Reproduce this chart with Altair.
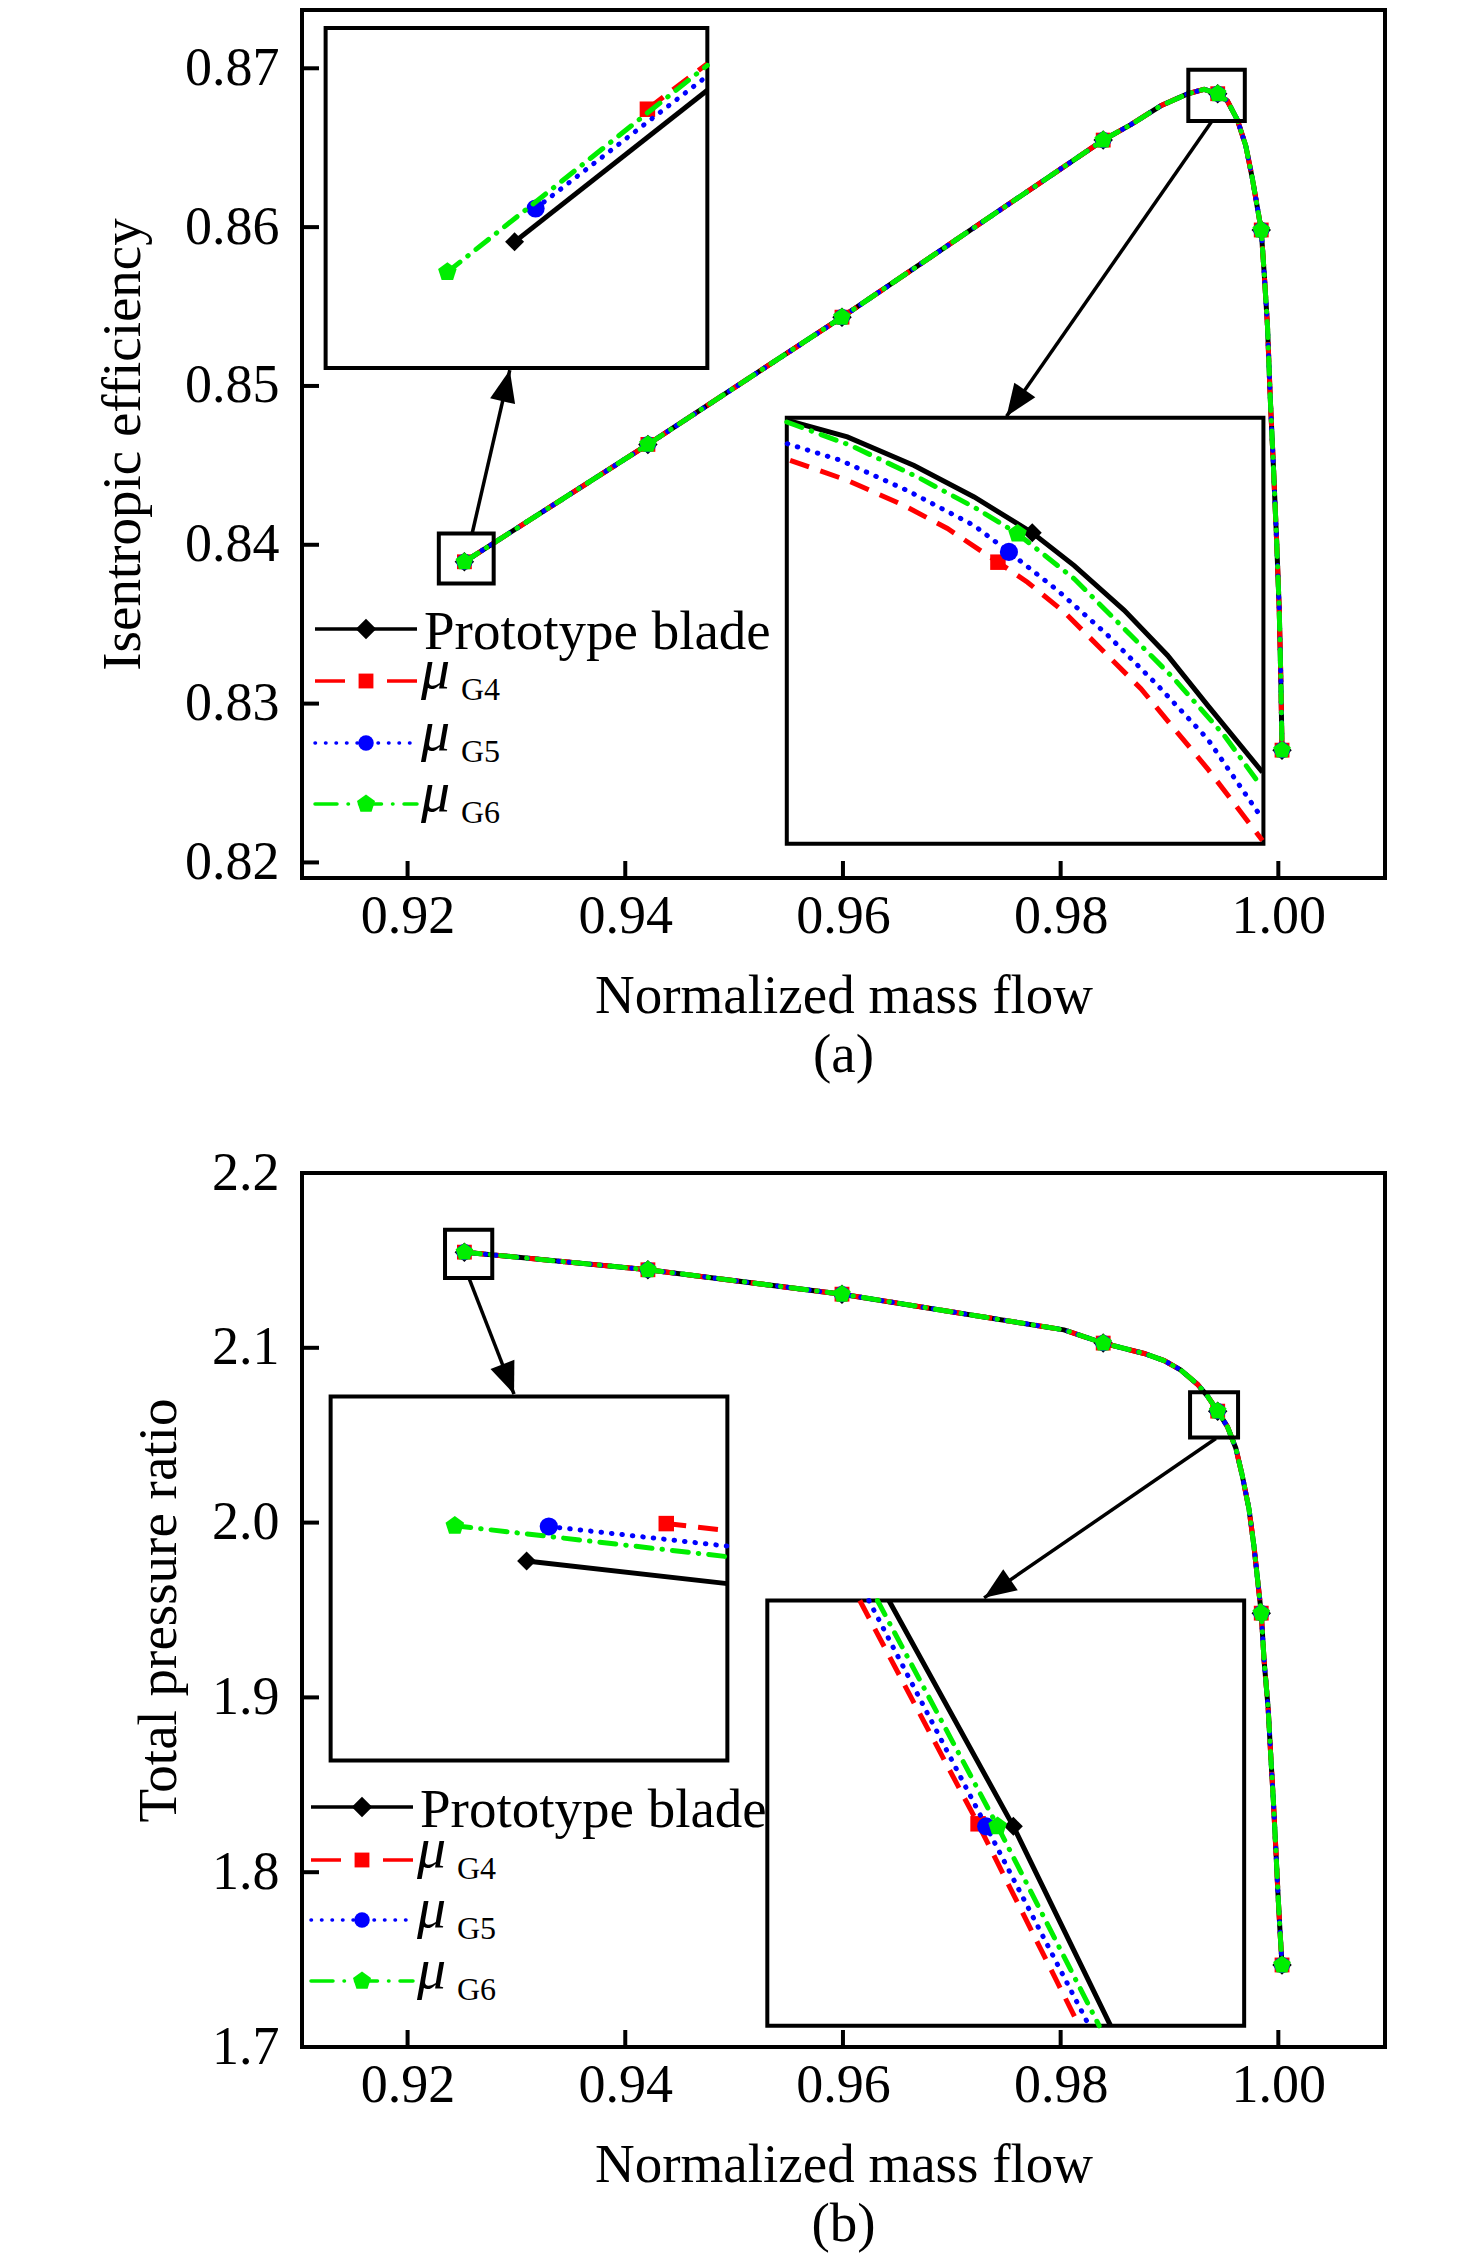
import math

import altair as alt
import pandas as pd

FONT = "Liberation Serif"

# ---------------------------------------------------------------- data
series = ["Prototype blade", "G4", "G5", "G6"]
mass_ticks = [0.92, 0.94, 0.96, 0.98, 1.00]

# (a) efficiency line, the four blades lie on top of each other here
flow_a = [0.92522, 0.94208, 0.95991, 0.98391, 0.98645, 0.98920, 0.99165, 0.99318,
          0.99443, 0.99532, 0.99624, 0.99701, 0.99762, 0.99843, 0.99870, 0.99900,
          0.99925, 0.99955, 0.99983, 1.00008, 1.00023, 1.00034]
efficiency = [0.83893, 0.84632, 0.85433, 0.86548, 0.86645, 0.86764, 0.86839, 0.86868,
              0.86840, 0.86794, 0.86675, 0.86512, 0.86304, 0.85982, 0.85710, 0.85382,
              0.84936, 0.84491, 0.84046, 0.83600, 0.83154, 0.82707]
marks_a = [0, 1, 2, 3, 8, 13, 21]

# (b) total pressure ratio line
flow_b = [0.92522, 0.94208, 0.95991, 0.98031, 0.98391, 0.98767, 0.98951, 0.99104,
          0.99257, 0.99349, 0.99443, 0.99532, 0.99609, 0.99670, 0.99731, 0.99777,
          0.99843, 0.99869, 0.99906, 0.99930, 0.99955, 0.99977, 0.99998, 1.00017,
          1.00034]
pressure = [2.15472, 2.14465, 2.13068, 2.11025, 2.10269, 2.09674, 2.09267, 2.08729,
            2.07916, 2.07241, 2.06377, 2.05489, 2.04270, 2.02650, 2.00761, 1.98597,
            1.94819, 1.92118, 1.89416, 1.86714, 1.84012, 1.81311, 1.78609, 1.76450,
            1.74693]
marks_b = [0, 1, 2, 4, 10, 16, 24]

# small zoom boxes on the curves: x left, x right, y top, y bottom
boxes_a = [(0.92287, 0.92791, 0.84071, 0.83756), (0.99173, 0.99692, 0.86991, 0.86668)]
boxes_b = [(0.92344, 0.92778, 2.16754, 2.13990), (0.99189, 0.99630, 2.07458, 2.04865)]

# enlarged frames: x left, x right, y top, y bottom
frames_a = [(0.91247, 0.94754, 0.87254, 0.85113), (0.95484, 0.99863, 0.84800, 0.82117)]
frames_b = [(0.91293, 0.94938, 2.07207, 1.86394), (0.95305, 0.99686, 1.95541, 1.71213)]

# arrows: x start, y start, x tip, y tip
arrows_a = [(0.92593, 0.84071, 0.92939, 0.85100), (0.99391, 0.86668, 0.97503, 0.84809)]
arrows_b = [(0.92564, 2.13990, 0.92978, 2.07349), (0.99426, 2.04814, 0.97297, 1.95695)]

# enlarged curves, read as fractions of the frame (from left, from top) + marker index
zoom_a_left = {
    "Prototype blade": ([0.495, 1.0], [0.629, 0.183], 0),
    "G4": ([0.843, 1.0], [0.239, 0.105], 0),
    "G5": ([0.550, 1.0], [0.531, 0.141], 0),
    "G6": ([0.319, 1.0], [0.718, 0.110], 0),
}
zoom_a_right = {
    "Prototype blade": ([0.0, 0.127, 0.267, 0.393, 0.515, 0.603, 0.708, 0.799, 0.883, 0.998],
                        [0.006, 0.045, 0.112, 0.186, 0.270, 0.347, 0.452, 0.558, 0.675, 0.832], 4),
    "G4": ([0.007, 0.127, 0.246, 0.337, 0.443, 0.505, 0.582, 0.659, 0.743, 0.813, 0.883, 0.998],
           [0.100, 0.147, 0.206, 0.260, 0.339, 0.386, 0.456, 0.542, 0.636, 0.730, 0.824, 0.992], 4),
    "G5": ([0.001, 0.113, 0.253, 0.393, 0.466, 0.568, 0.673, 0.778, 0.883, 0.991],
           [0.061, 0.100, 0.171, 0.253, 0.315, 0.405, 0.510, 0.628, 0.754, 0.930], 4),
    "G6": ([0.0, 0.134, 0.274, 0.393, 0.484, 0.603, 0.708, 0.813, 0.918, 0.994],
           [0.010, 0.065, 0.139, 0.210, 0.272, 0.378, 0.495, 0.613, 0.746, 0.863], 4),
}
zoom_b_left = {
    "Prototype blade": ([0.494, 1.0], [0.452, 0.514], 0),
    "G4": ([0.846, 1.0], [0.349, 0.368], 0),
    "G5": ([0.550, 1.0], [0.357, 0.411], 0),
    "G6": ([0.313, 1.0], [0.355, 0.440], 0),
}
zoom_b_right = {
    "Prototype blade": ([0.255, 0.516, 0.720], [0.0, 0.531, 1.0], 1),
    "G4": ([0.194, 0.442, 0.654], [0.0, 0.525, 1.0], 1),
    "G5": ([0.213, 0.459, 0.675], [0.0, 0.531, 1.0], 1),
    "G6": ([0.231, 0.483, 0.696], [0.0, 0.531, 1.0], 1),
}

# ---------------------------------------------------------------- styles
PENTAGON = "M0,-1L0.951,-0.309L0.588,0.809L-0.588,0.809L-0.951,-0.309Z"
ARROWHEAD = "M0,0L0.8,2L-0.8,2Z"
styles = {
    "Prototype blade": dict(color="#000000", dash=None, cap="butt", shape="diamond",
                            size=(380, 360, 420), legend_dash=None),
    "G4": dict(color="#ff0000", dash=[20, 12], cap="butt", shape="square",
               size=(220, 240, 220), legend_dash=[30, 42]),
    "G5": dict(color="#0000ff", dash=[0.5, 10], cap="round", shape="circle",
               size=(260, 330, 240), legend_dash=[0.5, 10]),
    "G6": dict(color="#00ee00", dash=[16, 10, 0.5, 10], cap="round", shape=PENTAGON,
               size=(340, 380, 360), legend_dash=[22, 11, 0.5, 11]),
}

WIDTH = 1083
XDOM = [0.9103, 1.0098]


def zoom_rows(frames, zooms):
    rows, marks = [], []
    for k, ((x0, x1, yt, yb), curves) in enumerate(zip(frames, zooms)):
        for name, (fx, fy, m) in curves.items():
            for i, (a, b) in enumerate(zip(fx, fy)):
                r = dict(series=name, inset=k, x=x0 + a * (x1 - x0), y=yt - b * (yt - yb))
                rows.append(r)
                if i == m:
                    marks.append(r)
    return pd.DataFrame(rows), pd.DataFrame(marks)


def line_style(st, dash_key="dash", width=5):
    kw = dict(color=st["color"], strokeWidth=width, strokeCap=st["cap"])
    if st[dash_key]:
        kw["strokeDash"] = st[dash_key]
    return kw


def panel(flow, vals, marks, ydom, height, ytitle, yticks, yfmt, ytpad,
          boxes, frames, arrows, zooms, legend_y, legend_dx, tag):
    X = alt.X("x:Q", scale=alt.Scale(domain=XDOM, nice=False, zero=False),
              axis=alt.Axis(values=mass_ticks, format=".2f", title="Normalized mass flow",
                            labelFlush=False, labelPadding=11, titlePadding=26))
    Y = alt.Y("y:Q", scale=alt.Scale(domain=ydom, nice=False, zero=False),
              axis=alt.Axis(values=yticks, format=yfmt, title=ytitle,
                            labelPadding=23, titlePadding=ytpad))
    one = pd.DataFrame({"k": [0]})

    # inward ticks
    layers = [
        alt.Chart(pd.DataFrame({"x": mass_ticks})).mark_rule(color="black", strokeWidth=4)
        .encode(x=X, y=alt.value(height), y2=alt.value(height - 17)),
        alt.Chart(pd.DataFrame({"y": yticks})).mark_rule(color="black", strokeWidth=4)
        .encode(y=Y, x=alt.value(0), x2=alt.value(17)),
    ]

    main = pd.DataFrame({"x": flow, "y": vals})
    pts = main.iloc[marks]
    for name in series:
        st = styles[name]
        layers.append(alt.Chart(main).mark_line(**line_style(st)).encode(x=X, y=Y))
        layers.append(alt.Chart(pts).mark_point(shape=st["shape"], filled=True, opacity=1,
                                                size=st["size"][0], color=st["color"])
                      .encode(x=X, y=Y))

    bdf = pd.DataFrame(boxes, columns=["x", "x2", "y", "y2"])
    layers.append(alt.Chart(bdf).mark_rect(fillOpacity=0, stroke="black", strokeWidth=4)
                  .encode(x=X, x2=alt.X2("x2:Q"), y=Y, y2=alt.Y2("y2:Q")))

    # arrows to the enlarged frames
    adf = pd.DataFrame(arrows, columns=["x", "y", "x2", "y2"])
    kx = WIDTH / (XDOM[1] - XDOM[0])
    ky = height / (ydom[1] - ydom[0])
    adf["angle"] = [math.degrees(math.atan2((r.x2 - r.x) * kx, (r.y2 - r.y) * ky)) % 360
                    for r in adf.itertuples()]
    heads = pd.DataFrame({"x": adf.x2, "y": adf.y2, "angle": adf.angle})
    layers.append(alt.Chart(adf).mark_rule(color="black", strokeWidth=3.5)
                  .encode(x=X, y=Y, x2=alt.X2("x2:Q"), y2=alt.Y2("y2:Q")))
    layers.append(alt.Chart(heads).mark_point(shape=ARROWHEAD, filled=True, opacity=1,
                                              size=1024, color="black")
                  .encode(x=X, y=Y, angle=alt.Angle("angle:Q", scale=None)))

    fdf = pd.DataFrame(frames, columns=["x", "x2", "y", "y2"])
    layers.append(alt.Chart(fdf).mark_rect(fill="white", stroke="black", strokeWidth=4)
                  .encode(x=X, x2=alt.X2("x2:Q"), y=Y, y2=alt.Y2("y2:Q")))

    zl, zm = zoom_rows(frames, zooms)
    for name in series:
        st = styles[name]
        layers.append(alt.Chart(zl[zl.series == name]).mark_line(**line_style(st))
                      .encode(x=X, y=Y, detail="inset:N"))
        layers.append(alt.Chart(zm[zm.series == name])
                      .mark_point(shape=st["shape"], filled=True, opacity=1,
                                  size=st["size"][1], color=st["color"])
                      .encode(x=X, y=Y))

    # legend
    lx0, lx1, lmk, ltx = 13 + legend_dx, 115 + legend_dx, 64 + legend_dx, 125 + legend_dx
    for name, ry in zip(series, legend_y):
        st = styles[name]
        layers.append(alt.Chart(one).mark_rule(**line_style(st, "legend_dash", 3.5))
                      .encode(x=alt.value(lx0), x2=alt.value(lx1), y=alt.value(ry)))
        layers.append(alt.Chart(one).mark_point(shape=st["shape"], filled=True, opacity=1,
                                                size=st["size"][2], color=st["color"])
                      .encode(x=alt.value(lmk), y=alt.value(ry)))
        if name == "Prototype blade":
            layers.append(alt.Chart(one).mark_text(text=name, font=FONT, fontSize=55,
                                                   align="left", baseline="alphabetic",
                                                   color="black")
                          .encode(x=alt.value(ltx - 3), y=alt.value(ry + 20)))
        else:
            layers.append(alt.Chart(one).mark_text(text="\u03bc", font=FONT, fontSize=58,
                                                   fontStyle="italic", align="left",
                                                   baseline="alphabetic", color="black")
                          .encode(x=alt.value(ltx - 6), y=alt.value(ry + 7)))
            layers.append(alt.Chart(one).mark_text(text=name, font=FONT, fontSize=32,
                                                   align="left", baseline="alphabetic",
                                                   color="black")
                          .encode(x=alt.value(ltx + 34), y=alt.value(ry + 19)))

    return alt.layer(*layers).properties(
        width=WIDTH, height=height,
        title=alt.TitleParams(tag, orient="bottom", frame="group", font=FONT, fontSize=55,
                              fontWeight="normal", color="black", offset=6),
    )


pa = panel(flow_a, efficiency, marks_a, [0.81902, 0.87367], 868, "Isentropic efficiency",
           [0.82, 0.83, 0.84, 0.85, 0.86, 0.87], ".2f", 33,
           boxes_a, frames_a, arrows_a, [zoom_a_left, zoom_a_right],
           [619, 671, 733, 794], 0, "(a)")
pb = panel(flow_b, pressure, marks_b, [1.7, 2.2], 874, "Total pressure ratio",
           [1.7, 1.8, 1.9, 2.0, 2.1, 2.2], ".1f", 24,
           boxes_b, frames_b, arrows_b, [zoom_b_left, zoom_b_right],
           [634, 687, 747, 808], -4, "(b)")

chart = (
    alt.vconcat(pa, pb, spacing=59)
    .properties(padding={"left": 85, "top": 0, "right": 5, "bottom": 5}, background="white")
    .configure_view(stroke="black", strokeWidth=4)
    .configure_axis(labelFont=FONT, titleFont=FONT, labelFontSize=54, titleFontSize=55,
                    labelColor="black", titleColor="black", titleFontWeight="normal",
                    grid=False, domain=False, ticks=False, tickSize=0)
)

chart.save("out.html", embed_options={"renderer": "svg", "actions": False})
